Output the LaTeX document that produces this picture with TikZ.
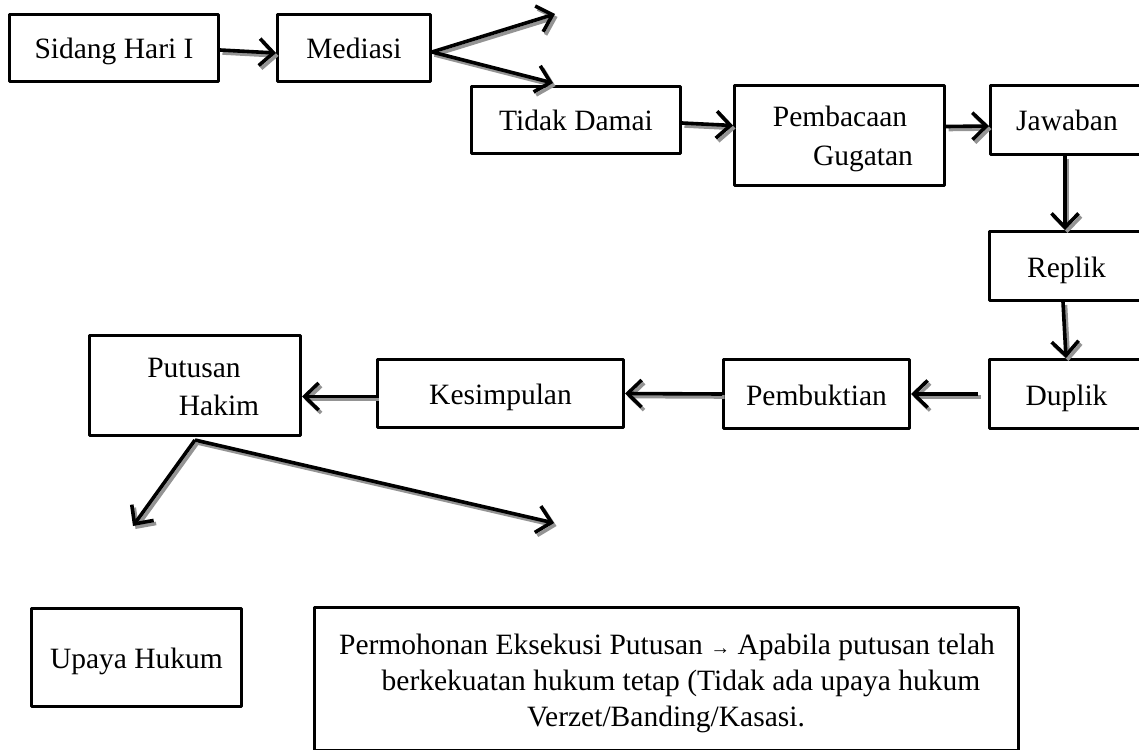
\documentclass[tikz,border=0pt]{standalone}
\usepackage{fontspec}
\setmainfont{Liberation Serif}
\usetikzlibrary{arrows.meta,calc}
\begin{document}
\begin{tikzpicture}[x=1pt,y=-1pt,
  every node/.style={font=\fontsize{29.5}{35}\selectfont},
  box/.style={draw=black, line width=3pt, line join=round, rectangle,
    inner sep=0pt, fill=white, text height=22pt, text depth=0pt},
  lbl/.style={anchor=base, inner sep=0pt},
  tipstyle/.style={-{Straight Barb[length=14pt,width=27pt]}},
  flow/.style={line width=3.6pt, tipstyle,
    preaction={draw=black!42, line width=3.6pt, tipstyle,
      transform canvas={shift={(2.5pt,-3pt)}}}},
]
\useasboundingbox (0,0) rectangle (1139,749);
\clip (0,0) rectangle (1139,749);

% process boxes
\node[box, minimum width=209, minimum height=67] (sidang)  at (114,48)     {Sidang Hari I};
\node[box, minimum width=153, minimum height=67] (mediasi) at (354,48)     {Mediasi};
\node[box, minimum width=209, minimum height=67] (tidak)   at (576,120)    {Tidak Damai};
\node[box, minimum width=210, minimum height=100] (pemb)   at (839.5,135.5) {};
\node[box, minimum width=153, minimum height=69] (jaw)     at (1067,120)   {Jawaban};
\node[box, minimum width=154, minimum height=69] (replik)  at (1066.5,266) {Replik};
\node[box, minimum width=154, minimum height=69] (duplik)  at (1066.5,394) {Duplik};
\node[box, minimum width=186, minimum height=69] (pembuk)  at (816.5,394)  {Pembuktian};
\node[box, minimum width=246, minimum height=68] (kesim)   at (500.5,393.5) {Kesimpulan};
\node[box, minimum width=211, minimum height=100] (putusan) at (195,385.5) {};
\node[box, minimum width=210, minimum height=98] (upaya)   at (136.5,657.5) {Upaya Hukum};
\node[box, minimum width=704, minimum height=143] (perm)   at (666.5,679) {};

% two- and three-line captions
\node[lbl] (pemb1) at (840,127) {Pembacaan};
\node[lbl] (pemb2) at (863,165) {Gugatan};
\node[lbl] (put1) at (194,377) {Putusan};
\node[lbl] (put2) at (219,415) {Hakim};
\node[lbl] (perm1) at (667,654) {Permohonan Eksekusi Putusan {\fontsize{20}{24}\selectfont →} Apabila putusan telah};
\node[lbl] (perm2) at (681,690) {berkekuatan hukum tetap (Tidak ada upaya hukum};
\node[lbl] (perm3) at (666,726) {Verzet/Banding/Kasasi.};

% free arrow ends
\coordinate (medUp) at (555,14);
\coordinate (medDn) at (553,83);
\coordinate (putL) at (133,526);
\coordinate (putR) at (554,523);

% connectors
\draw[flow] ([yshift=-2pt]sidang.east) -- ([yshift=-5pt]mediasi.west);
\draw[flow] ([yshift=-4pt]mediasi.east) -- (medUp);
\draw[flow] ([yshift=-4pt]mediasi.east) -- (medDn);
\draw[flow] ([yshift=-3pt]tidak.east) -- ([yshift=10pt]pemb.west);
\draw[flow] ([yshift=9pt]pemb.east) -- ([yshift=-6pt]jaw.west);
\draw[flow] ([xshift=-2pt]jaw.south) -- ([xshift=-1.5pt]replik.north);
\draw[flow] ([xshift=-3.5pt]replik.south) -- ([xshift=-0.5pt]duplik.north);
\draw[flow] ([xshift=-10pt]duplik.west) -- (pembuk.east);
\draw[flow] (pembuk.west) -- (kesim.east);
\draw[flow] ($(kesim.west)+(0,3)$) -- ($(kesim.west -| putusan.east)+(0,3)$);
\draw[flow] ($(putusan.south)+(0,3)$) -- (putL);
\draw[flow] ($(putusan.south)+(0,3)$) -- (putR);
\end{tikzpicture}
\end{document}
